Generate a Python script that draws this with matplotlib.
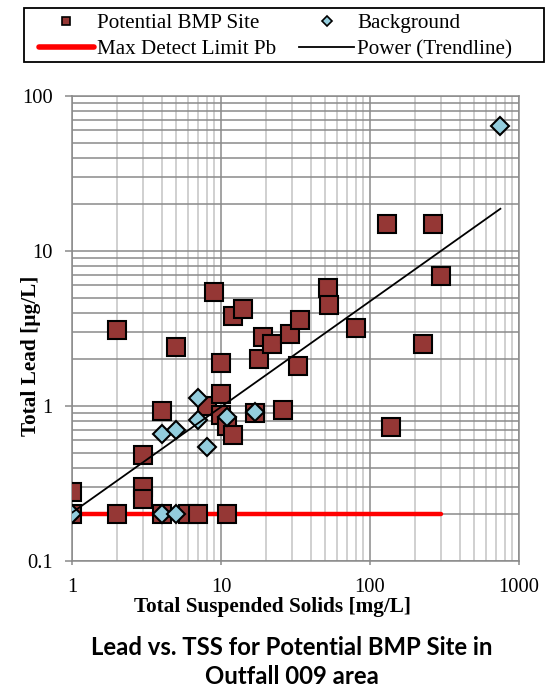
import matplotlib
matplotlib.use('Agg')
import matplotlib.pyplot as plt
import numpy as np
from matplotlib.lines import Line2D
from matplotlib.patches import Rectangle
from matplotlib.ticker import LogLocator, FixedLocator, FixedFormatter, NullFormatter

# ---- data ----
bmp_tss = [1, 1, 2, 2, 3, 3, 3, 4, 4, 5, 6, 7, 8, 9, 10, 10, 10, 11, 11, 12, 12,
           14, 17, 18, 19, 22, 26, 29, 33, 34, 52, 53, 80, 130, 138, 228, 266, 300]
bmp_pb = [0.28, 0.2, 3.1, 0.2, 0.48, 0.3, 0.25, 0.93, 0.2, 2.4, 0.2, 0.2, 1.0, 5.4,
          1.9, 1.2, 0.87, 0.74, 0.2, 0.65, 3.8, 4.2, 0.9, 2.0, 2.8, 2.5, 0.94, 2.9,
          1.8, 3.6, 5.8, 4.5, 3.2, 15, 0.73, 2.5, 15, 6.9]

bg_tss = [1, 4, 4, 5, 5, 7, 7, 8, 11, 17, 750]
bg_pb = [0.2, 0.66, 0.2, 0.7, 0.2, 1.12, 0.81, 0.54, 0.85, 0.92, 64]

mdl_tss = [1, 300]
mdl_pb = [0.2, 0.2]

trend_a = 0.205
trend_b = 0.682
trend_tss = [1, 750]

x_ticks = [1, 10, 100, 1000]
x_tick_labels = ['1', '10', '100', '1000']
y_ticks = [0.1, 1, 10, 100]
y_tick_labels = ['0.1', '1', '10', '100']

legend_labels = ['Potential BMP Site', 'Max Detect Limit Pb', 'Background', 'Power (Trendline)']

# ---- style ----
W, H = 554, 690
serif = ['Liberation Serif', 'DejaVu Serif']
sq_face = '#953735'
dm_face = '#93CDDD'
grid_dark = '#8a8a8a'
grid_light = '#c4c4c4'

fig = plt.figure(figsize=(W / 100, H / 100), dpi=100)
L, R, T, B = 72, 519, 96, 561
ax = fig.add_axes([L / W, 1 - B / H, (R - L) / W, (B - T) / H])
ax.set_xscale('log')
ax.set_yscale('log')
ax.set_xlim(1, 1000)
ax.set_ylim(0.1, 100)

# grid
ax.xaxis.set_major_locator(FixedLocator(x_ticks))
ax.yaxis.set_major_locator(FixedLocator(y_ticks))
ax.xaxis.set_minor_locator(LogLocator(base=10, subs=np.arange(2, 10)))
ax.yaxis.set_minor_locator(LogLocator(base=10, subs=np.arange(2, 10)))
ax.xaxis.set_minor_formatter(NullFormatter())
ax.yaxis.set_minor_formatter(NullFormatter())
ax.xaxis.set_major_formatter(FixedFormatter(x_tick_labels))
ax.yaxis.set_major_formatter(FixedFormatter(y_tick_labels))
ax.set_axisbelow(True)
ax.yaxis.grid(True, which='both', color=grid_dark, lw=1.1)
ax.xaxis.grid(True, which='minor', color=grid_light, lw=1.1)
ax.xaxis.grid(True, which='major', color=grid_dark, lw=1.1)

for s in ax.spines.values():
    s.set_color(grid_dark)
    s.set_linewidth(1.1)

ax.tick_params(axis='both', which='minor', length=0)
ax.tick_params(axis='y', which='major', length=5, width=1.1, color=grid_dark, pad=9)
ax.tick_params(axis='x', which='major', length=3, width=1.1, color=grid_dark, pad=9)
for lab in ax.get_xticklabels() + ax.get_yticklabels():
    lab.set_fontfamily(serif)
    lab.set_fontsize(14.8)

# data
ax.plot(mdl_tss, mdl_pb, color='#ff0000', lw=3.2, solid_capstyle='round', zorder=2)
ax.plot(bmp_tss, bmp_pb, ls='none', marker='s', ms=12.5, mfc=sq_face, mec='black', mew=1.5, zorder=3)
ax.plot(bg_tss, bg_pb, ls='none', marker='D', ms=9.2, mfc=dm_face, mec='black', mew=1.5, zorder=4)
tx = np.logspace(np.log10(trend_tss[0]), np.log10(trend_tss[1]), 50)
ax.plot(tx, trend_a * tx ** trend_b, color='black', lw=1.3, zorder=5)

# labels
ax.set_xlabel('Total Suspended Solids [mg/L]', fontfamily=serif, fontsize=15.3, fontweight='bold')
ax.xaxis.label.set_va('center')
ax.xaxis.set_label_coords((273 - L) / (R - L), -(607 - B) / (B - T))
ax.set_ylabel('Total Lead [µg/L]', fontfamily=serif, fontsize=15.3, fontweight='bold')
ax.yaxis.label.set_va('center')
ax.yaxis.set_label_coords((31 - L) / (R - L), (B - 356) / (B - T))

fig.text(292 / W, 1 - 655 / H, 'Lead vs. TSS for Potential BMP Site in', ha='center', va='baseline',
         fontfamily=['Lato', 'DejaVu Sans'], fontweight='bold', fontsize=17.2)
fig.text(292 / W, 1 - 684 / H, 'Outfall 009 area', ha='center', va='baseline',
         fontfamily=['Lato', 'DejaVu Sans'], fontweight='bold', fontsize=17.2)

# legend
handles = [
    Line2D([], [], ls='none', marker='s', ms=6, mfc=sq_face, mec='black', mew=1.2),
    Line2D([], [], color='#ff0000', lw=4, solid_capstyle='round'),
    Line2D([], [], ls='none', marker='D', ms=5, mfc=dm_face, mec='black', mew=1.2),
    Line2D([], [], color='black', lw=1.3),
]
leg = fig.legend(handles, legend_labels, ncol=2, loc='upper left',
                 bbox_to_anchor=(39 / W, 1 - 13.5 / H), frameon=False,
                 prop={'family': serif, 'size': 15.2}, handlelength=2.6, handletextpad=0.15,
                 columnspacing=1.1, labelspacing=0.3, borderpad=0, borderaxespad=0)
fig.patches.append(Rectangle((24 / W, 1 - 61.7 / H), 520 / W, 53.4 / H, transform=fig.transFigure,
                             fill=False, edgecolor='black', lw=1.3))

fig.savefig('out.png', dpi=100)
